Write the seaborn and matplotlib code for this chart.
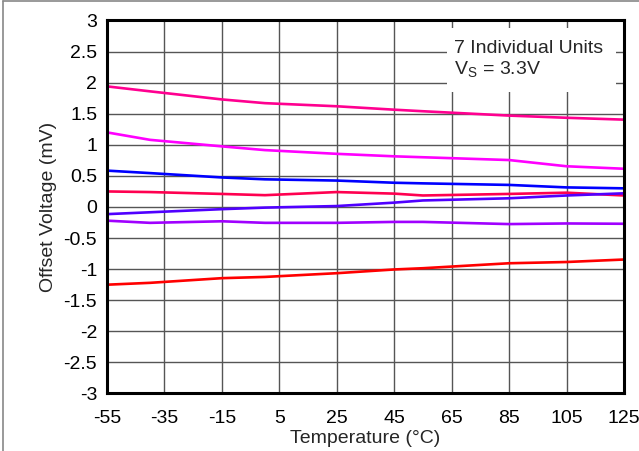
import numpy as np
import pandas as pd
import matplotlib
matplotlib.use('Agg')
import matplotlib.pyplot as plt
import seaborn as sns

# temperature points (°C) and offset voltage (mV) of the 7 units
temps = [-55, -40, -15, 0, 25, 45, 55, 85, 105, 125]
unit1 = [1.94, 1.86, 1.73, 1.67, 1.62, 1.565, 1.54, 1.47, 1.435, 1.405]
unit2 = [1.20, 1.08, 0.975, 0.915, 0.855, 0.815, 0.80, 0.755, 0.655, 0.615]
unit3 = [0.585, 0.545, 0.475, 0.445, 0.425, 0.39, 0.38, 0.355, 0.315, 0.30]
unit4 = [0.25, 0.24, 0.21, 0.19, 0.24, 0.215, 0.185, 0.21, 0.23, 0.185]
unit5 = [-0.115, -0.085, -0.035, -0.01, 0.015, 0.07, 0.105, 0.14, 0.185, 0.22]
unit6 = [-0.22, -0.255, -0.23, -0.255, -0.255, -0.24, -0.24, -0.275, -0.265, -0.27]
unit7 = [-1.25, -1.22, -1.145, -1.125, -1.065, -1.005, -0.985, -0.905, -0.885, -0.845]
units = [unit1, unit2, unit3, unit4, unit5, unit6, unit7]
colors = ['#FF0090', '#FF00FF', '#0000FF', '#FF0050', '#5000FF', '#A000FF', '#FF0000']

x_ticks = [-55, -35, -15, 5, 25, 45, 65, 85, 105, 125]
y_ticks = [-3, -2.5, -2, -1.5, -1, -0.5, 0, 0.5, 1, 1.5, 2, 2.5, 3]

rows = []
for i, vals in enumerate(units):
    for t, v in zip(temps, vals):
        rows.append({'Temperature': t, 'Offset': v, 'Unit': f'U{i + 1}'})
df = pd.DataFrame(rows)

sns.set_style('white')
plt.rcParams['font.family'] = ['Liberation Sans', 'DejaVu Sans']

fig = plt.figure(figsize=(6.39, 4.51), dpi=100)
ax = fig.add_axes([0.1674, 0.1275, 0.8091, 0.8271])

sns.lineplot(data=df, x='Temperature', y='Offset', hue='Unit', palette=colors,
             linewidth=1.9, legend=False, ax=ax, zorder=3)

ax.set_xlim(-55, 125)
ax.set_ylim(-3, 3)
ax.set_xticks(x_ticks)
ax.set_yticks(y_ticks)
ax.set_xticklabels([str(t) for t in x_ticks])
ax.set_yticklabels([f'{v:g}' for v in y_ticks])
ax.grid(True, color='#555555', linewidth=1.0, zorder=1)
ax.tick_params(axis='both', labelsize=14, length=0, colors='black')
ax.tick_params(axis='x', pad=12)
ax.tick_params(axis='y', pad=7)
for s in ax.spines.values():
    s.set_linewidth(2.2)
    s.set_color('black')
    s.set_zorder(5)

ax.set_xlabel('Temperature (°C)', fontsize=14, labelpad=2)
ax.set_ylabel('Offset Voltage (mV)', fontsize=14, labelpad=5)

# white box behind the annotation
ax.add_patch(plt.Rectangle((0.657, 0.807), 0.328, 0.174, transform=ax.transAxes,
                           facecolor='white', edgecolor='none', zorder=2))
ax.text(0.672, 0.948, '7 Individual Units\nV$_\\mathregular{S}$ = 3.3V',
        transform=ax.transAxes, fontsize=14, va='top', ha='left', zorder=4,
        linespacing=1.2)

# grey frame lines at top and left of the figure
fig.add_artist(plt.Line2D([0.005, 0.005], [0, 0.998], transform=fig.transFigure,
                          color='#888888', linewidth=1.2))
fig.add_artist(plt.Line2D([0.005, 1], [0.998, 0.998], transform=fig.transFigure,
                          color='#888888', linewidth=1.2))

fig.savefig('out.png', dpi=100)
